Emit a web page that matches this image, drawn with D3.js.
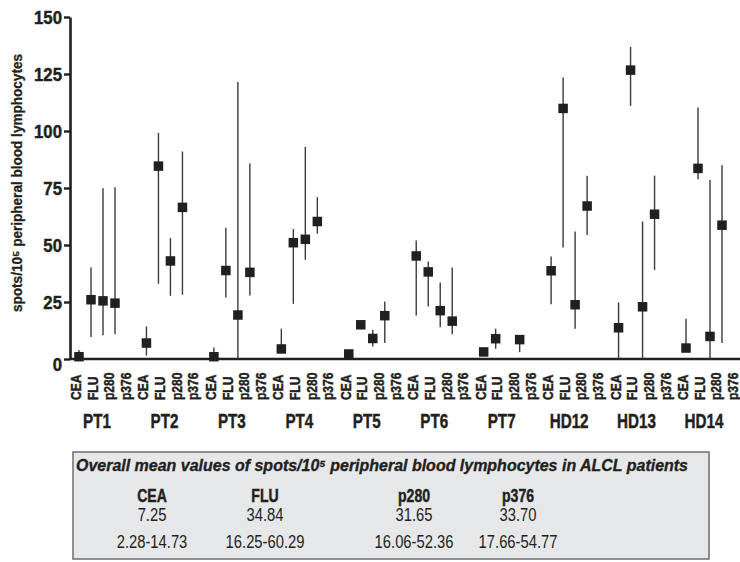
<!DOCTYPE html>
<html>
<head>
<meta charset="utf-8">
<script src="https://cdn.jsdelivr.net/npm/d3@7"></script>
<style>
  body { margin: 0; background: #fff; }
  text { font-family: "Liberation Sans", Arial, sans-serif; fill: #231f20; }
  text.heavy { stroke: #231f20; stroke-width: 0.45px; }
</style>
</head>
<body>
<script>
var groups = ["PT1", "PT2", "PT3", "PT4", "PT5", "PT6", "PT7", "HD12", "HD13", "HD14"];
var peptides = ["CEA", "FLU", "p280", "p376"];

// mean spots per group, order CEA, FLU, p280, p376 (null = not shown)
var means = [
  [1, 26, 25.5, 24.5],
  [7, 84.6, 43, 66.5],
  [1, 38.8, 19.3, 38],
  [4.4, 51, 52.5, 60.3],
  [2.2, 15, 9, 19],
  [45.2, 38.2, 21.2, 16.6],
  [3.1, 8.9, null, 8.5],
  [38.7, 109.9, 23.8, 67.1],
  [13.7, 126.7, 22.9, 63.5],
  [4.8, 83.6, 9.9, 58.7]
];
var lows = [
  [0, 9.6, 10.4, 10.9],
  [1.5, 33, 27.7, 28.2],
  [0, 27, 0, 27.9],
  [2.6, 24.2, 43.5, 55],
  [2.2, 15, 5.5, 7],
  [19.1, 23, 13.9, 10.9],
  [3.1, 4.5, null, 3],
  [24, 48.9, 13.3, 54.4],
  [0, 111, 0, 39.1],
  [4.8, 78.8, 0, 7]
];
var highs = [
  [4, 40.1, 74.9, 75.3],
  [14.3, 99.2, 53, 91],
  [5, 57.6, 121.5, 85.8],
  [13.3, 57, 93, 71],
  [2.2, 15, 12.8, 25.2],
  [52, 42.8, 33.6, 40.1],
  [3.1, 13.3, null, 10],
  [45, 123.5, 55.9, 80.4],
  [24.8, 136.9, 60.3, 80.4],
  [17.7, 110.3, 78.5, 85]
];
var yTicks = [0, 25, 50, 75, 100, 125, 150];

var tableTitle = "Overall mean values of spots/10\u2075 peripheral blood lymphocytes in ALCL patients";
var tableMeans = ["7.25", "34.84", "31.65", "33.70"];
var tableRanges = ["2.28-14.73", "16.25-60.29", "16.06-52.36", "17.66-54.77"];

var width = 740, height = 562;
var ink = "#231f20";

var svg = d3.select("body").append("svg")
    .attr("width", width)
    .attr("height", height);

// squeeze normal glyphs to look like a condensed face
function condense(sel, k) {
    sel.each(function() {
        var len = this.getComputedTextLength();
        d3.select(this).attr("textLength", len * k).attr("lengthAdjust", "spacingAndGlyphs");
    });
}

var xGroup = d3.scalePoint().domain(groups).range([79, 686]);
var xPep = d3.scalePoint().domain(peptides).range([0, 36]);
var xLabel = d3.scalePoint().domain(peptides).range([-3, 47]);
var y = d3.scaleLinear().domain([0, 150]).range([359, 17]);

var points = [];
groups.forEach(function(g, gi) {
    peptides.forEach(function(p, pi) {
        if (means[gi][pi] == null) return;
        points.push({group: g, pep: p, mean: means[gi][pi], lo: lows[gi][pi], hi: highs[gi][pi]});
    });
});
function px(d) { return xGroup(d.group) + xPep(d.pep); }

// y axis
var yAxis = svg.append("g")
    .attr("transform", "translate(70,0)")
    .call(d3.axisLeft(y).tickValues(yTicks).tickSize(6).tickSizeOuter(0).tickPadding(2));
yAxis.select(".domain").attr("stroke", ink).attr("stroke-width", 2.6);
yAxis.selectAll(".tick line").attr("stroke", ink).attr("stroke-width", 2.4);
yAxis.selectAll(".tick text")
    .attr("class", "heavy")
    .attr("font-size", 18)
    .attr("font-weight", "bold")
    .attr("font-family", "Liberation Sans, Arial, sans-serif")
    .attr("fill", ink)
    .attr("dy", function(d) { return d === 0 ? "0.62em" : "0.34em"; })
    .call(condense, 0.93);

// x axis line
svg.append("line")
    .attr("x1", 69).attr("x2", width)
    .attr("y1", y(0)).attr("y2", y(0))
    .attr("stroke", ink).attr("stroke-width", 2.6);

svg.append("text")
    .attr("class", "heavy")
    .attr("transform", "translate(22,183) rotate(-90)")
    .attr("text-anchor", "middle")
    .attr("font-size", 14)
    .attr("font-weight", "bold")
    .attr("textLength", 258)
    .attr("lengthAdjust", "spacingAndGlyphs")
    .style("stroke-width", "0.3px")
    .text("spots/10\u2075 peripheral blood lymphocytes");

// error bars
svg.append("g").selectAll("line")
    .data(points.filter(function(d) { return d.hi > d.lo; }))
    .enter().append("line")
    .attr("x1", px).attr("x2", px)
    .attr("y1", function(d) { return y(d.lo); })
    .attr("y2", function(d) { return y(d.hi); })
    .attr("stroke", "#3a3a3a")
    .attr("stroke-width", 1.4);

// markers
var ms = 9.5;
svg.append("g").selectAll("rect")
    .data(points)
    .enter().append("rect")
    .attr("x", function(d) { return px(d) - ms / 2; })
    .attr("y", function(d) { return y(d.mean) - ms / 2; })
    .attr("width", ms).attr("height", ms)
    .attr("fill", ink);

// peptide labels
var labelData = [];
groups.forEach(function(g) {
    peptides.forEach(function(p) { labelData.push({group: g, pep: p}); });
});
svg.append("g").selectAll("text")
    .data(labelData)
    .enter().append("text")
    .attr("class", "heavy")
    .attr("transform", function(d) {
        return "translate(" + (xGroup(d.group) + xLabel(d.pep)) + ",400) rotate(-90)";
    })
    .attr("dy", "0.36em")
    .attr("font-size", 14)
    .attr("font-weight", "bold")
    .text(function(d) { return d.pep; })
    .call(condense, 0.86);

// group labels
svg.append("g").selectAll("text")
    .data(groups)
    .enter().append("text")
    .attr("class", "heavy")
    .attr("x", function(d) { return xGroup(d) + 18; })
    .attr("y", 428)
    .attr("text-anchor", "middle")
    .attr("font-size", 20)
    .attr("font-weight", "bold")
    .text(function(d) { return d; })
    .call(condense, 0.76);

// summary table
var tbl = svg.append("g");
tbl.append("rect")
    .attr("x", 73).attr("y", 452)
    .attr("width", 636).attr("height", 107)
    .attr("fill", "#e6e7e8")
    .attr("stroke", "#6d6e70")
    .attr("stroke-width", 1.5);
tbl.append("text")
    .attr("class", "heavy")
    .attr("x", 76).attr("y", 471)
    .attr("font-size", 17)
    .attr("font-weight", "bold")
    .attr("font-style", "italic")
    .style("stroke-width", "0.35px")
    .text(tableTitle)
    .call(condense, 1)
    .attr("textLength", 612);

var colX = [152, 265, 414, 518];
var cols = tbl.selectAll("g.col")
    .data(peptides)
    .enter().append("g")
    .attr("class", "col")
    .attr("transform", function(d, i) { return "translate(" + colX[i] + ",0)"; });
cols.append("text")
    .attr("class", "heavy")
    .attr("y", 502).attr("text-anchor", "middle")
    .attr("font-size", 18).attr("font-weight", "bold")
    .text(function(d) { return d; })
    .call(condense, 0.78);
cols.append("text")
    .attr("y", 521).attr("text-anchor", "middle")
    .attr("font-size", 18)
    .text(function(d, i) { return tableMeans[i]; })
    .call(condense, 0.82);
cols.append("text")
    .attr("y", 548).attr("text-anchor", "middle")
    .attr("font-size", 18)
    .text(function(d, i) { return tableRanges[i]; })
    .call(condense, 0.82);
</script>
</body>
</html>
